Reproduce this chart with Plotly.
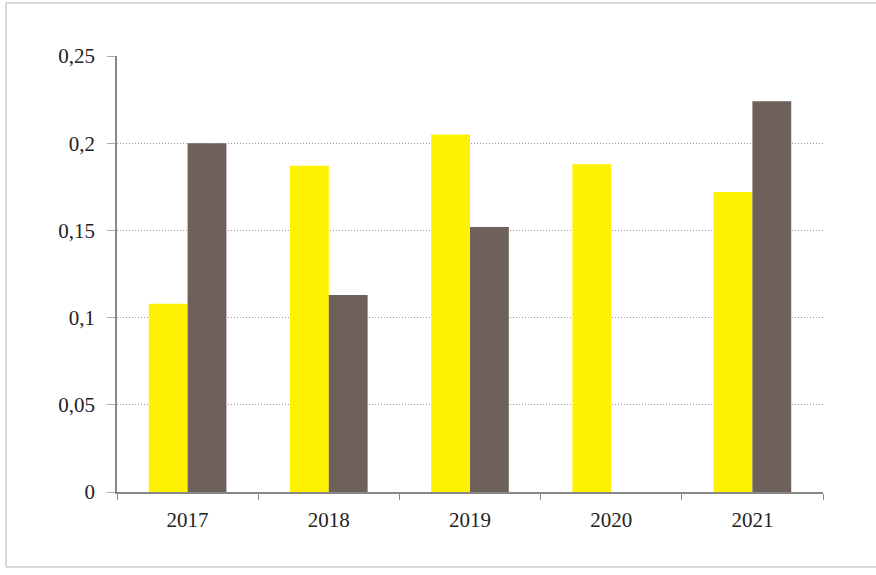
import plotly.graph_objects as go

years = ["2017", "2018", "2019", "2020", "2021"]
series_a = [0.108, 0.187, 0.205, 0.188, 0.172]
series_b = [0.200, 0.113, 0.152, None, 0.224]
y_ticks = [0, 0.05, 0.1, 0.15, 0.2, 0.25]
y_tick_labels = ["0", "0,05", "0,1", "0,15", "0,2", "0,25"]

fig = go.Figure()
fig.add_trace(go.Bar(x=years, y=series_a, marker=dict(color="#FFF200", line=dict(width=0)), name="A"))
fig.add_trace(go.Bar(x=years, y=series_b, marker=dict(color="#6E605A", line=dict(width=0)), name="B"))

frame = dict(color="#cccccc", width=1.5)
x_left, x_right, y_bot, y_top = -0.1572, 1.2, -0.172, 1.1216

fig.update_layout(
    width=876, height=575,
    margin=dict(l=117, r=53, t=56, b=83),
    paper_bgcolor="white", plot_bgcolor="white",
    barmode="group", bargap=0.45, bargroupgap=0,
    showlegend=False,
    font=dict(family="Liberation Serif", size=21, color="#222222"),
    xaxis=dict(
        showline=True, linecolor="#888888", linewidth=1.5,
        ticks="outside", tickson="boundaries", ticklen=6, tickcolor="#888888",
        showgrid=False, tickfont=dict(size=21), ticklabelstandoff=8,
    ),
    yaxis=dict(
        range=[0, 0.25], tickvals=y_ticks, ticktext=y_tick_labels,
        showline=True, linecolor="#888888", linewidth=1.5,
        ticks="outside", ticklen=8, tickcolor="#aaaaaa",
        showgrid=True, gridcolor="#999999", gridwidth=1, griddash="1px,2px",
        zeroline=False, tickfont=dict(size=21), ticklabelstandoff=8,
    ),
    shapes=[
        dict(type="line", xref="paper", yref="paper", x0=x_left, x1=x_right, y0=y_top, y1=y_top, line=frame, layer="below"),
        dict(type="line", xref="paper", yref="paper", x0=x_left, x1=x_right, y0=y_bot, y1=y_bot, line=frame, layer="below"),
        dict(type="line", xref="paper", yref="paper", x0=x_left, x1=x_left, y0=y_bot, y1=y_top, line=frame, layer="below"),
    ],
)

fig.write_html("out.html", config={"displayModeBar": False},
               post_script="document.body.style.margin='0';document.body.style.overflow='hidden';")
